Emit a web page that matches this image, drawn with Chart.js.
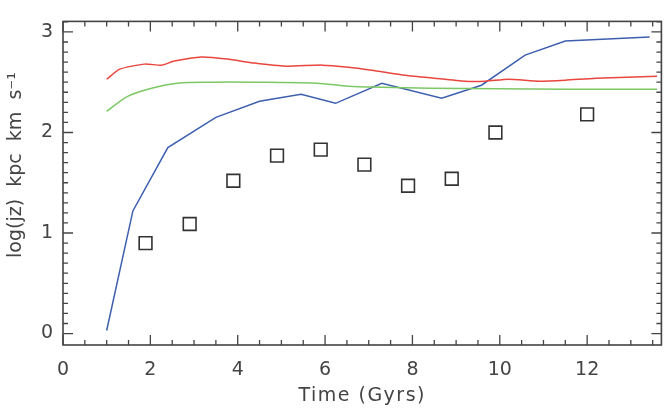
<!DOCTYPE html>
<html>
<head>
<meta charset="utf-8">
<script src="https://cdn.jsdelivr.net/npm/chart.js@4"></script>
<style>
  html, body { margin: 0; padding: 0; background: #fff; }
</style>
</head>
<body>
<canvas id="myChart" width="672" height="412"></canvas>
<script>
// tick labels
const xTickLabels = [0, 2, 4, 6, 8, 10, 12];
const yTickLabels = [0, 1, 2, 3];

// red curve
const redX = [1.0, 1.3, 1.87, 2.26, 2.55, 3.17, 3.76, 4.38, 5.1, 5.93, 6.54, 7.07, 7.84, 8.5, 9.2, 9.67, 10.2, 10.9, 11.5, 12.2, 13.6];
const redY = [2.53, 2.63, 2.68, 2.67, 2.71, 2.75, 2.73, 2.69, 2.66, 2.67, 2.65, 2.62, 2.57, 2.54, 2.51, 2.51, 2.53, 2.51, 2.52, 2.54, 2.56];

// green curve
const greenX = [1.0, 1.48, 2.03, 2.62, 3.4, 4.38, 5.8, 6.54, 7.3, 8.4, 11.5, 13.6];
const greenY = [2.21, 2.36, 2.44, 2.49, 2.50, 2.50, 2.49, 2.46, 2.45, 2.44, 2.43, 2.43];

// blue curve
const blueX = [1.0, 1.6, 2.4, 3.5, 4.5, 5.45, 6.24, 7.3, 8.67, 9.58, 10.58, 11.5, 13.43];
const blueY = [0.03, 1.22, 1.85, 2.15, 2.31, 2.38, 2.29, 2.49, 2.34, 2.47, 2.77, 2.91, 2.95];

// open squares
const squareX = [1.89, 2.9, 3.9, 4.9, 5.9, 6.9, 7.9, 8.9, 9.9, 12.0];
const squareY = [0.90, 1.09, 1.52, 1.77, 1.83, 1.68, 1.47, 1.54, 2.00, 2.18];

function toPoints(xs, ys) {
    return xs.map((x, i) => ({ x: x, y: ys[i] }));
}

const axisColor = '#444';
const fontFamily = '"DejaVu Sans", sans-serif';

// IDL style frame: box round the plot with inward ticks on all four sides
const framePlugin = {
    id: 'frame',
    afterDraw(chart) {
        const ctx = chart.ctx;
        const area = chart.chartArea;
        const xs = chart.scales.x;
        const ys = chart.scales.y;
        ctx.save();
        ctx.strokeStyle = axisColor;
        ctx.lineWidth = 1.6;
        ctx.strokeRect(area.left, area.top, area.right - area.left, area.bottom - area.top);

        ctx.lineWidth = 1.3;
        ctx.beginPath();
        // x ticks, major every 2, minor every 0.5
        for (let v = 0; v <= xs.max + 1e-6; v += 0.5) {
            const px = xs.getPixelForValue(v);
            const len = (Math.round(v * 2) % 4 === 0) ? 10 : 5;
            ctx.moveTo(px, area.bottom); ctx.lineTo(px, area.bottom - len);
            ctx.moveTo(px, area.top); ctx.lineTo(px, area.top + len);
        }
        // y ticks, major every 1, minor every 0.1
        for (let i = 0; i <= 31; i++) {
            const v = i / 10;
            if (v > ys.max) break;
            const py = ys.getPixelForValue(v);
            const len = (i % 10 === 0) ? 10 : 5;
            ctx.moveTo(area.left, py); ctx.lineTo(area.left + len, py);
            ctx.moveTo(area.right, py); ctx.lineTo(area.right - len, py);
        }
        ctx.stroke();

        // axis titles (letter spaced like the original)
        ctx.fillStyle = axisColor;
        ctx.font = '19px ' + fontFamily;
        ctx.textAlign = 'center';
        ctx.textBaseline = 'middle';
        ctx.letterSpacing = '1.5px';
        ctx.fillText('Time (Gyrs)', (area.left + area.right) / 2, 396);

        ctx.letterSpacing = '0px';
        ctx.translate(16, 165);
        ctx.rotate(-Math.PI / 2);
        ctx.fillText('log(jz)  kpc  km  s\u207B\u00B9', 0, 0);
        ctx.restore();
    }
};

const ctx = document.getElementById('myChart').getContext('2d');
const myChart = new Chart(ctx, {
    type: 'scatter',
    data: {
        datasets: [
            {
                label: 'red',
                data: toPoints(redX, redY),
                showLine: true,
                borderColor: '#e8463e',
                borderWidth: 1.5,
                pointRadius: 0,
                tension: 0.2
            },
            {
                label: 'green',
                data: toPoints(greenX, greenY),
                showLine: true,
                borderColor: '#7cc864',
                borderWidth: 1.5,
                pointRadius: 0,
                tension: 0.3
            },
            {
                label: 'blue',
                data: toPoints(blueX, blueY),
                showLine: true,
                borderColor: '#3d5fae',
                borderWidth: 1.5,
                pointRadius: 0,
                tension: 0
            },
            {
                label: 'squares',
                data: toPoints(squareX, squareY),
                showLine: false,
                pointStyle: 'rect',
                pointRadius: 9,
                pointHoverRadius: 9,
                pointBorderWidth: 1.6,
                pointBorderColor: '#333',
                pointBackgroundColor: 'rgba(255,255,255,0)'
            }
        ]
    },
    options: {
        responsive: false,
        animation: false,
        layout: { padding: { top: 7, right: 9, left: 0, bottom: 0 } },
        plugins: {
            legend: { display: false },
            tooltip: { enabled: false }
        },
        scales: {
            x: {
                type: 'linear',
                min: 0,
                max: 13.7,
                grid: { display: false, drawTicks: false },
                border: { display: false },
                afterBuildTicks: (scale) => { scale.ticks = xTickLabels.map(v => ({ value: v })); },
                afterFit: (scale) => { scale.height = 67; },
                ticks: {
                    color: axisColor,
                    font: { family: fontFamily, size: 19 },
                    padding: 14,
                    maxRotation: 0,
                    autoSkip: false
                }
            },
            y: {
                type: 'linear',
                min: -0.114,
                max: 3.105,
                grid: { display: false, drawTicks: false },
                border: { display: false },
                afterBuildTicks: (scale) => { scale.ticks = yTickLabels.map(v => ({ value: v })); },
                afterFit: (scale) => { scale.width = 63; },
                ticks: {
                    color: axisColor,
                    font: { family: fontFamily, size: 19 },
                    padding: 10
                }
            }
        }
    },
    plugins: [framePlugin]
});
</script>
</body>
</html>
